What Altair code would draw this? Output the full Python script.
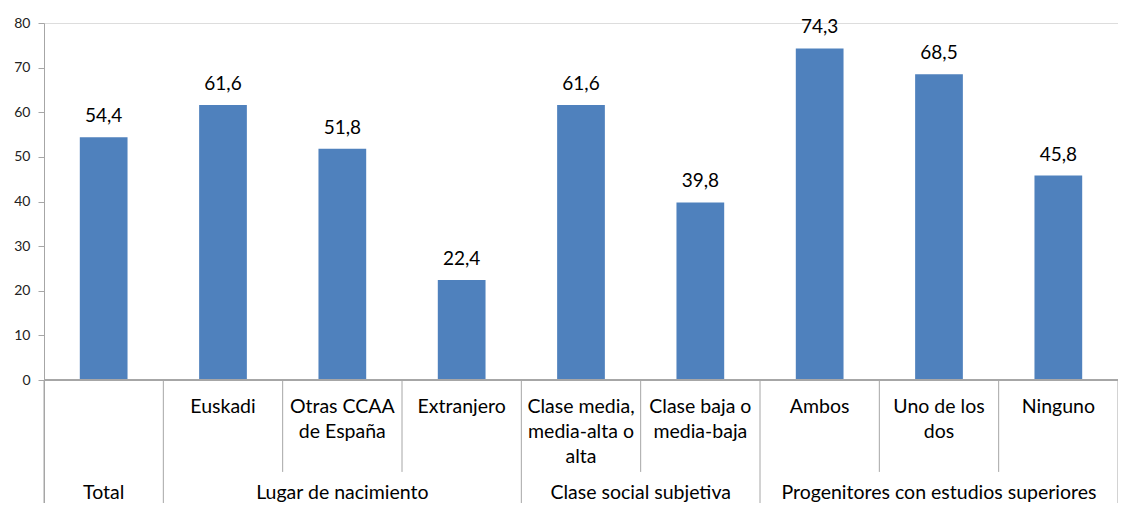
import altair as alt
import pandas as pd

# ---- data ----
categories = ["", "Euskadi", "Otras CCAA\nde España", "Extranjero",
              "Clase media,\nmedia-alta o\nalta", "Clase baja o\nmedia-baja",
              "Ambos", "Uno de los\ndos", "Ninguno"]
values = [54.4, 61.6, 51.8, 22.4, 61.6, 39.8, 74.3, 68.5, 45.8]
groups = ["Total", "Lugar de nacimiento", "Clase social subjetiva",
          "Progenitores con estudios superiores"]
group_start = [0, 1, 4, 6]
group_end = [1, 4, 6, 9]
y_ticks = [0, 10, 20, 30, 40, 50, 60, 70, 80]

N = len(categories)
YMAX = 80
PLOT_H = 480
PX_PER_UNIT = 357 / 80
YMIN = YMAX - PLOT_H / PX_PER_UNIT

FONT = "Lato"
BAR = "#4F81BD"
LINE = "#A6A6A6"
TXT = "#000000"

bars_df = pd.DataFrame({"idx": list(range(N)), "label": categories, "value": values})
groups_df = pd.DataFrame({"group": groups, "start": group_start, "end": group_end})
group_bounds = sorted(set(group_start) | set(group_end))
inner_bounds = [b for b in range(1, N) if b not in group_bounds]
outer_df = pd.DataFrame({"b": group_bounds})
inner_df = pd.DataFrame({"b": inner_bounds})

xscale = alt.Scale(domain=[0, N], nice=False, zero=False)
yscale = alt.Scale(domain=[YMIN, YMAX], nice=False, zero=False)

yaxis = alt.Axis(values=y_ticks, grid=False, title=None, domainColor=LINE,
                 tickColor=LINE, tickSize=6, labelPadding=8, labelFontSize=14,
                 labelColor="#222222", labelFont=FONT)

base = alt.Chart(bars_df)

bars = base.transform_calculate(
    x0="datum.idx + 0.3", x1="datum.idx + 0.7"
).mark_bar(color=BAR).encode(
    x=alt.X("x0:Q", scale=xscale, axis=None),
    x2="x1:Q",
    y=alt.Y("value:Q", scale=yscale, axis=yaxis),
    y2=alt.datum(0),
)

value_labels = base.transform_calculate(
    xm="datum.idx + 0.5",
    txt="replace(format(datum.value, '.1f'), '.', ',')"
).mark_text(font=FONT, fontSize=19, color=TXT, baseline="alphabetic", dy=-15).encode(
    x=alt.X("xm:Q", scale=xscale),
    y=alt.Y("value:Q", scale=yscale),
    text="txt:N",
)

cat_labels = base.transform_calculate(
    xm="datum.idx + 0.5"
).mark_text(font=FONT, fontSize=19.5, color=TXT, baseline="middle",
            lineBreak="\n", lineHeight=25).encode(
    x=alt.X("xm:Q", scale=xscale),
    y=alt.datum(-6.1),
    text="label:N",
)

group_labels = alt.Chart(groups_df).transform_calculate(
    xm="(datum.start + datum.end) / 2"
).mark_text(font=FONT, fontSize=19.5, color=TXT, baseline="middle").encode(
    x=alt.X("xm:Q", scale=xscale),
    y=alt.datum(-25.4),
    text="group:N",
)

axis_line = alt.Chart(bars_df).mark_rule(color=LINE, strokeWidth=1).encode(
    x=alt.datum(0),
    x2=alt.datum(N),
    y=alt.datum(0),
)

inner_rules = alt.Chart(inner_df).mark_rule(color=LINE, strokeWidth=1).encode(
    x=alt.X("b:Q", scale=xscale),
    y=alt.datum(0),
    y2=alt.datum(-20.6),
)

outer_rules = alt.Chart(outer_df).mark_rule(color=LINE, strokeWidth=1).encode(
    x=alt.X("b:Q", scale=xscale),
    y=alt.datum(0),
    y2=alt.datum(YMIN),
)

chart = alt.layer(
    bars, axis_line, inner_rules, outer_rules, value_labels, cat_labels, group_labels
).properties(
    width=1074, height=PLOT_H,
    autosize=alt.AutoSizeParams(type="none"),
    padding={"left": 36, "top": 15, "right": 0, "bottom": 0},
).configure_view(stroke=None).configure(background="white")

chart.save("out.html", embed_options={"renderer": "svg", "actions": False})
